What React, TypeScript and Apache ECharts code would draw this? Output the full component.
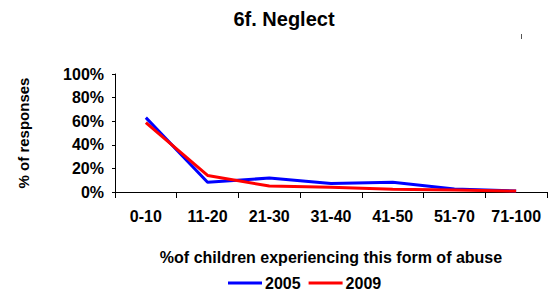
import React, { useEffect, useRef } from "react";
import * as echarts from "echarts";

const categories = ["0-10", "11-20", "21-30", "31-40", "41-50", "51-70", "71-100"];
const series2005 = [63, 8.2, 11.8, 7.3, 8.2, 2.5, 0.8];
const series2009 = [58.7, 14, 5, 4, 2.3, 1.7, 0.8];
const yTicks = [0, 20, 40, 60, 80, 100];

const FONT = "'Liberation Sans', Arial, sans-serif";

export default function App() {
  const ref = useRef<HTMLDivElement>(null);
  useEffect(() => {
    const chart = echarts.init(ref.current!, null, { renderer: "svg" });
    chart.setOption({
      animation: false,
      backgroundColor: "#fff",
      title: {
        text: "6f. Neglect",
        left: 284,
        textAlign: "center",
        top: 8,
        padding: 0,
        textStyle: { fontFamily: FONT, fontSize: 20, lineHeight: 22, fontWeight: "bold", color: "#000" },
      },
      legend: {
        top: 274,
        left: 228,
        padding: 0,
        itemWidth: 34,
        itemHeight: 3,
        itemGap: 8,
        icon: "rect",
        textStyle: {
          fontFamily: FONT,
          fontSize: 16,
          lineHeight: 18,
          fontWeight: "bold",
          color: "#000",
          padding: [0, 0, 0, -2],
        },
        data: ["2005", "2009"],
      },
      grid: { left: 115, right: 1, top: 74, bottom: 101, containLabel: false },
      xAxis: {
        type: "category",
        data: categories,
        boundaryGap: true,
        name: "%of children experiencing this form of abuse",
        nameLocation: "middle",
        nameGap: 57,
        nameTextStyle: { fontFamily: FONT, fontSize: 16, fontWeight: "bold", color: "#000" },
        axisLine: { lineStyle: { color: "#000", width: 1 } },
        axisTick: { show: true, length: 6, interval: 0, lineStyle: { color: "#000" }, alignWithLabel: false },
        axisLabel: { interval: 0, fontFamily: FONT, fontSize: 16, fontWeight: "bold", color: "#000", margin: 16 },
      },
      yAxis: {
        type: "value",
        min: 0,
        max: 100,
        interval: 20,
        name: "% of responses",
        nameLocation: "middle",
        nameGap: 84,
        nameRotate: 90,
        nameTextStyle: { fontFamily: FONT, fontSize: 15, fontWeight: "bold", color: "#000" },
        axisLine: { show: true, lineStyle: { color: "#000", width: 1 } },
        axisTick: { show: true, length: 3, lineStyle: { color: "#000" } },
        splitLine: { show: false },
        axisLabel: {
          fontFamily: FONT,
          fontSize: 16,
          fontWeight: "bold",
          color: "#000",
          margin: 11,
          formatter: (v: number) => (yTicks.includes(v) ? v + "%" : ""),
        },
      },
      series: [
        {
          name: "2005",
          type: "line",
          data: series2005,
          symbol: "none",
          lineStyle: { color: "#0000ff", width: 3 },
          itemStyle: { color: "#0000ff" },
        },
        {
          name: "2009",
          type: "line",
          data: series2009,
          symbol: "none",
          lineStyle: { color: "#ff0000", width: 3 },
          itemStyle: { color: "#ff0000" },
        },
      ],
      graphic: [
        { type: "rect", shape: { x: 521, y: 34, width: 1, height: 5 }, style: { fill: "#555" } },
      ],
    });
    return () => chart.dispose();
  }, []);
  return <div ref={ref} style={{ width: 548, height: 293, position: "absolute", left: 0, top: 0 }} />;
}
